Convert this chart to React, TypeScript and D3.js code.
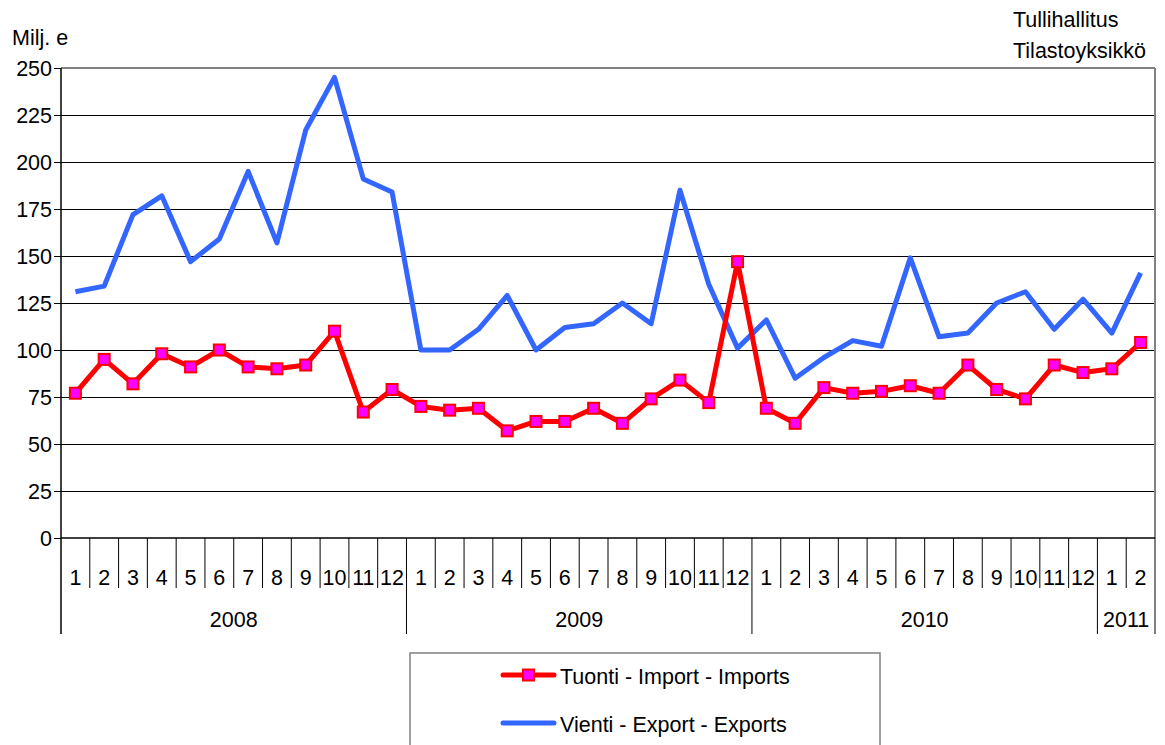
import React, { useEffect, useRef } from 'react';
import * as d3 from 'd3';

const years = ['2008', '2009', '2010', '2011'];
const monthsPerYear = [12, 12, 12, 2];
const imports = [77, 95, 82, 98, 91, 100, 91, 90, 92, 110, 67, 79,
  70, 68, 69, 57, 62, 62, 69, 61, 74, 84, 72, 147,
  69, 61, 80, 77, 78, 81, 77, 92, 79, 74, 92, 88,
  90, 104];
const exportsData = [131, 134, 172, 182, 147, 159, 195, 157, 217, 245, 191, 184,
  100, 100, 111, 129, 100, 112, 114, 125, 114, 185, 135, 101,
  116, 85, 96, 105, 102, 149, 107, 109, 125, 131, 111, 127,
  109, 141];
const yTicks = [0, 25, 50, 75, 100, 125, 150, 175, 200, 225, 250];

const FONT = 'Liberation Sans, Arial, sans-serif';
const FS = 21.5;

const App = () => {
  const svgRef = useRef<SVGSVGElement>(null);

  useEffect(() => {
    const svg = d3.select(svgRef.current);
    svg.selectAll('*').remove();

    const left = 61, right = 1155, top = 68, bottom = 538;
    const monthBottom = 588, yearBottom = 634;

    // month list built from years
    const months: { label: string; year: number }[] = [];
    monthsPerYear.forEach((n, yi) => {
      for (let m = 1; m <= n; m++) months.push({ label: String(m), year: yi });
    });

    const x = d3.scaleBand<number>()
      .domain(months.map((_, i) => i))
      .range([left, right])
      .padding(0);
    const y = d3.scaleLinear().domain([0, 250]).range([bottom, top]);
    const cx = (i: number) => (x(i) as number) + x.bandwidth() / 2;

    // gridlines
    svg.append('g').selectAll('line')
      .data(yTicks.filter(t => t > 0 && t < 250))
      .enter().append('line')
      .attr('x1', left).attr('x2', right)
      .attr('y1', d => y(d)).attr('y2', d => y(d))
      .attr('stroke', '#000').attr('stroke-width', 1)
      .attr('shape-rendering', 'crispEdges');

    // top and right frame
    svg.append('line').attr('x1', left).attr('x2', right)
      .attr('y1', y(250)).attr('y2', y(250))
      .attr('stroke', '#808080').attr('stroke-width', 2);
    svg.append('line').attr('x1', right).attr('x2', right)
      .attr('y1', top).attr('y2', bottom)
      .attr('stroke', '#808080').attr('stroke-width', 2);

    // y axis
    svg.append('line').attr('x1', left).attr('x2', left)
      .attr('y1', top).attr('y2', yearBottom)
      .attr('stroke', '#000').attr('stroke-width', 1.5);
    const yAxis = svg.append('g');
    yAxis.selectAll('line').data(yTicks).enter().append('line')
      .attr('x1', left - 7).attr('x2', left)
      .attr('y1', d => y(d)).attr('y2', d => y(d))
      .attr('stroke', '#000').attr('stroke-width', 1)
      .attr('shape-rendering', 'crispEdges');
    yAxis.selectAll('text').data(yTicks).enter().append('text')
      .attr('x', left - 9).attr('y', d => y(d) + 8)
      .attr('text-anchor', 'end')
      .attr('font-size', FS).attr('font-family', FONT)
      .text(d => d);

    // x axis baseline
    svg.append('line').attr('x1', left).attr('x2', right)
      .attr('y1', bottom).attr('y2', bottom)
      .attr('stroke', '#000').attr('stroke-width', 1.5);

    // month separators
    const boundaries = d3.range(1, months.length + 1);
    const yearStarts = new Set<number>();
    let acc = 0;
    monthsPerYear.forEach(n => { acc += n; yearStarts.add(acc); });
    svg.append('g').selectAll('line').data(boundaries).enter().append('line')
      .attr('x1', i => i === months.length ? right : (x(i) as number))
      .attr('x2', i => i === months.length ? right : (x(i) as number))
      .attr('y1', bottom)
      .attr('y2', i => yearStarts.has(i) ? yearBottom : monthBottom)
      .attr('stroke', '#000').attr('stroke-width', 1);

    svg.append('g').selectAll('text').data(months).enter().append('text')
      .attr('x', (_, i) => cx(i)).attr('y', 585)
      .attr('text-anchor', 'middle')
      .attr('font-size', FS).attr('font-family', FONT)
      .text(d => d.label);

    // year labels
    let start = 0;
    years.forEach((yr, yi) => {
      const n = monthsPerYear[yi];
      const x0 = x(start) as number;
      const x1 = start + n >= months.length ? right : (x(start + n) as number);
      svg.append('text')
        .attr('x', (x0 + x1) / 2).attr('y', 627)
        .attr('text-anchor', 'middle')
        .attr('font-size', FS).attr('font-family', FONT)
        .text(yr);
      start += n;
    });

    // lines
    const line = d3.line<number>().x((_, i) => cx(i)).y(d => y(d));
    svg.append('path').datum(exportsData)
      .attr('d', line).attr('fill', 'none')
      .attr('stroke', '#3366FF').attr('stroke-width', 5)
      .attr('stroke-linejoin', 'round');
    svg.append('path').datum(imports)
      .attr('d', line).attr('fill', 'none')
      .attr('stroke', '#FF0000').attr('stroke-width', 5)
      .attr('stroke-linejoin', 'round');
    svg.append('g').selectAll('rect').data(imports).enter().append('rect')
      .attr('x', (_, i) => cx(i) - 5.5).attr('y', d => y(d) - 5.5)
      .attr('width', 11).attr('height', 11)
      .attr('fill', '#FF00FF').attr('stroke', '#FF0000').attr('stroke-width', 2);

    // titles
    svg.append('text').attr('x', 12).attr('y', 45)
      .attr('font-size', FS).attr('font-family', FONT).text('Milj. e');
    svg.append('text').attr('x', 1013).attr('y', 27)
      .attr('font-size', FS).attr('font-family', FONT).text('Tullihallitus');
    svg.append('text').attr('x', 1013).attr('y', 58)
      .attr('font-size', FS).attr('font-family', FONT).text('Tilastoyksikkö');

    // legend
    const legend = svg.append('g');
    legend.append('rect')
      .attr('x', 410).attr('y', 653).attr('width', 470).attr('height', 110)
      .attr('fill', '#fff').attr('stroke', '#808080').attr('stroke-width', 1.5);
    const items = [
      { name: 'Tuonti - Import - Imports', color: '#FF0000', marker: true, yy: 675 },
      { name: 'Vienti - Export - Exports', color: '#3366FF', marker: false, yy: 723 },
    ];
    items.forEach(it => {
      legend.append('line').attr('x1', 503).attr('x2', 554)
        .attr('y1', it.yy).attr('y2', it.yy)
        .attr('stroke', it.color).attr('stroke-width', 5).attr('stroke-linecap', 'round');
      if (it.marker) {
        legend.append('rect').attr('x', 523).attr('y', it.yy - 5.5)
          .attr('width', 11).attr('height', 11)
          .attr('fill', '#FF00FF').attr('stroke', '#FF0000').attr('stroke-width', 2);
      }
      legend.append('text').attr('x', 560).attr('y', it.yy + 9)
        .attr('font-size', FS).attr('font-family', FONT).text(it.name);
    });
  }, []);

  return (
    <svg ref={svgRef} width={1165} height={745}
      style={{ position: 'absolute', left: 0, top: 0, background: '#fff' }} />
  );
};

export default App;
